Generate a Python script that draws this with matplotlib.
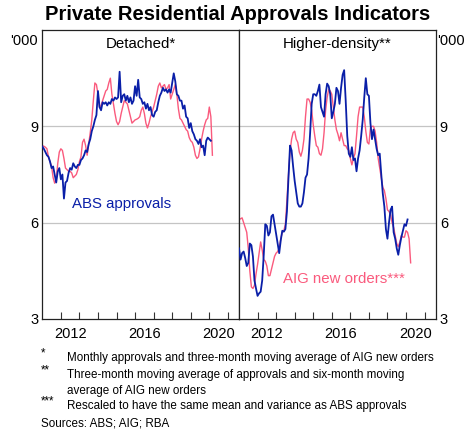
import numpy as np
import pandas as pd
import matplotlib
matplotlib.use("Agg")
import matplotlib.pyplot as plt

# monthly data, starting Jan 2011 ('000)
det_abs = [8.37, 8.3, 8.2, 8.1, 8.05, 7.9, 7.7, 7.75, 7.5, 7.25, 7.6, 7.7,
           7.35, 7.5, 6.75, 7.25, 7.3, 7.55, 7.7, 7.65, 7.85, 7.75, 7.7, 7.8,
           7.8, 7.95, 8.0, 8.1, 8.25, 8.2, 8.45, 8.6, 8.85, 9.0, 9.2, 9.35,
           10.1, 9.6, 9.5, 9.75, 9.7, 9.75, 9.65, 9.75, 9.7, 9.85, 9.8, 9.9,
           9.85, 9.9, 10.7, 9.75, 9.95, 10.0, 9.8, 9.95, 9.75, 9.9, 9.7, 9.8,
           10.25, 9.95, 10.45, 9.9, 9.85, 9.7, 9.75, 9.55, 9.7, 9.5, 9.6, 9.35,
           9.3, 9.45, 9.5, 9.75, 9.95, 10.05, 10.2, 10.1, 10.15, 10.05, 10.15, 10.05,
           10.35, 10.65, 10.4, 10.0, 9.95, 9.8, 9.8, 9.55, 9.65, 9.3, 9.25, 8.95,
           9.1, 8.85, 8.75, 8.6, 8.55, 8.45, 8.6, 8.35, 8.4, 8.1, 8.55, 8.65,
           8.6, 8.55]
det_aig = [8.4, 8.38, 8.35, 8.3, 8.05, 7.9, 7.75, 7.4, 7.23, 7.35, 7.85, 8.2,
           8.3, 8.25, 8.0, 7.7, 7.65, 7.6, 7.6, 7.55, 7.4, 7.45, 7.5, 7.65,
           7.9, 8.05, 8.5, 8.6, 8.4, 8.1, 8.45, 8.8, 9.2, 9.8, 10.35, 10.3,
           10.0, 9.6, 9.65, 9.8, 9.95, 10.1, 10.15, 10.35, 10.5, 10.0, 9.7, 9.4,
           9.15, 9.05, 9.15, 9.4, 9.6, 9.8, 9.75, 9.7, 9.5, 9.3, 9.1, 9.15,
           9.2, 9.22, 9.25, 9.3, 9.5, 9.6, 9.4, 9.1, 8.95, 9.1, 9.3, 9.45,
           9.6, 9.8, 10.0, 10.25, 10.35, 10.2, 10.25, 10.3, 10.15, 10.2, 10.3, 9.85,
           10.0, 10.15, 10.3, 10.0, 9.55, 9.25, 9.2, 9.1, 9.0, 8.9, 8.85, 8.65,
           8.55, 8.5, 8.35, 8.1, 8.0, 8.05, 8.3, 8.6, 8.85, 9.05, 9.2, 9.25,
           9.6, 9.3, 8.1]
hd_abs = [5.2, 4.85, 5.05, 5.1, 4.9, 4.65, 4.75, 5.35, 5.3, 4.95, 4.2, 3.95,
          3.72, 3.8, 3.85, 4.2, 5.0, 5.95, 5.9, 5.6, 5.7, 6.2, 6.25, 5.95,
          5.65, 5.35, 5.05, 5.45, 5.75, 5.72, 5.8, 6.35, 7.4, 8.4, 8.25, 7.75,
          7.3, 6.95, 6.6, 6.5, 6.5, 6.6, 6.95, 7.4, 7.5, 8.0, 8.8, 9.7,
          10.0, 10.0, 9.95, 10.1, 10.3, 9.6, 9.45, 9.3, 10.0, 10.33, 10.25, 10.0,
          9.25, 9.45, 9.7, 10.2, 10.1, 9.7, 10.2, 10.6, 10.75, 9.8, 8.7, 8.15,
          8.05, 8.35, 7.95, 8.0, 7.6, 8.0, 8.25, 8.7, 9.2, 9.9, 10.5, 10.0,
          9.95, 9.1, 8.6, 8.9, 8.6, 8.3, 8.1, 8.15, 7.5, 6.9, 6.5, 5.8,
          5.5, 6.0, 6.4, 6.5, 5.7, 5.5, 5.2, 5.0, 5.3, 5.55, 5.75, 5.95,
          5.9, 6.1]
hd_aig = [6.1, 6.12, 6.15, 6.0, 5.85, 5.7, 5.2, 4.5, 4.0, 3.95, 4.05, 4.4,
          4.7, 5.05, 5.4, 5.15, 4.85, 4.8, 4.65, 4.35, 4.35, 4.55, 4.75, 4.95,
          5.05, 5.1, 5.2, 5.5, 5.7, 5.75, 5.95, 6.7, 7.5, 8.2, 8.6, 8.8,
          8.85, 8.6, 8.5, 8.2, 8.07, 8.25, 8.6, 9.3, 9.85, 9.85, 9.75, 9.5,
          9.05, 8.7, 8.4, 8.35, 8.15, 8.1, 8.3, 8.8, 9.5, 9.9, 10.15, 10.1,
          10.0, 9.6, 9.2, 8.9, 8.75, 8.55, 8.8, 8.6, 8.4, 8.4, 8.3, 8.25,
          8.0, 7.8, 8.0, 8.15, 8.7, 9.3, 9.6, 9.6, 9.6, 9.3, 8.85, 8.5,
          8.45, 8.95, 9.0, 9.0, 8.85, 8.5, 8.0, 7.7, 7.4, 7.1, 7.0, 6.75,
          6.4, 6.35, 6.25, 6.0, 5.85, 5.6, 5.35, 5.25, 5.4, 5.6, 5.55, 5.55,
          5.75, 5.7, 5.5, 4.75]

year_labels = ["2012", "2016", "2020"]
y_ticks = [3, 6, 9]
notes = [("*", "Monthly approvals and three-month moving average of AIG new orders"),
         ("**", "Three-month moving average of approvals and six-month moving\naverage of AIG new orders"),
         ("***", "Rescaled to have the same mean and variance as ABS approvals")]
source = "Sources: ABS; AIG; RBA"

BLUE = "#0a1fa8"
PINK = "#fa5a7d"

plt.rcParams["font.family"] = ["Liberation Sans", "DejaVu Sans"]


def to_x(vals):
    d = pd.date_range("2011-01-01", periods=len(vals), freq="MS")
    return d.year + (d.month - 1) / 12.0


def main():
    fig = plt.figure(figsize=(4.73, 4.32), dpi=100)
    x0, x1, xm = 42.3 / 473, 435.7 / 473, 239 / 473
    yb, yt = 1 - 319 / 432, 1 - 30 / 432
    axL = fig.add_axes([x0, yb, xm - x0, yt - yb])
    axR = fig.add_axes([xm, yb, x1 - xm, yt - yb])

    for ax, (a, g), ttl in [(axL, (det_abs, det_aig), "Detached*"),
                            (axR, (hd_abs, hd_aig), "Higher-density**")]:
        ax.set_xlim(2011, 2021.6)
        ax.set_ylim(3, 12)
        for yv in (6, 9):
            ax.axhline(yv, color="#c4c4c4", lw=0.9, zorder=0)
        ax.plot(to_x(g), g, color=PINK, lw=1.0, zorder=2)
        ax.plot(to_x(a), a, color=BLUE, lw=1.3, zorder=3)
        ax.set_xticks(np.arange(2012, 2022))
        ax.set_xticklabels([])
        ax.set_xticks([int(s) + 0.5 for s in year_labels], minor=True)
        ax.set_xticklabels(year_labels, minor=True, fontsize=10.5)
        ax.tick_params(axis="x", which="major", direction="in", length=5, width=0.8, color="#333333")
        ax.tick_params(axis="x", which="minor", length=0, pad=6)
        ax.set_yticks(y_ticks)
        ax.set_yticklabels([str(v) for v in y_ticks], fontsize=10.5)
        ax.tick_params(axis="y", length=0, pad=3)
        for s in ax.spines.values():
            s.set_linewidth(0.9)
            s.set_color("#222222")
        ax.text(0.5, 0.953, ttl, transform=ax.transAxes, ha="center", va="center", fontsize=10.8)

    axR.yaxis.tick_right()
    axR.text(1.008, 0.985, "'000", transform=axR.transAxes, ha="left", va="top", fontsize=10.5)
    axL.text(-0.025, 0.985, "'000", transform=axL.transAxes, ha="right", va="top", fontsize=10.5)

    axL.text(2012.6, 6.59, "ABS approvals", color=BLUE, fontsize=10.8, va="center", ha="left")
    axR.text(2013.36, 4.25, "AIG new orders***", color=PINK, fontsize=10.8, va="center", ha="left")

    fig.text(238 / 473, 1 - 15 / 432, "Private Residential Approvals Indicators",
             ha="center", va="center", fontsize=14.5, fontweight="bold")

    ys = [358, 375, 406]
    for (mark, txt), yy in zip(notes, ys):
        fig.text(40.7 / 473, 1 - (yy - 5) / 432, mark, fontsize=8.4, ha="left", va="center")
        fig.text(66.7 / 473, 1 - (yy - 6) / 432, txt, fontsize=8.4, ha="left", va="top",
                 linespacing=1.4)
    fig.text(40.7 / 473, 1 - 423 / 432, source, fontsize=8.4, ha="left", va="center")

    fig.savefig("out.png", dpi=100)


if __name__ == "__main__":
    main()
